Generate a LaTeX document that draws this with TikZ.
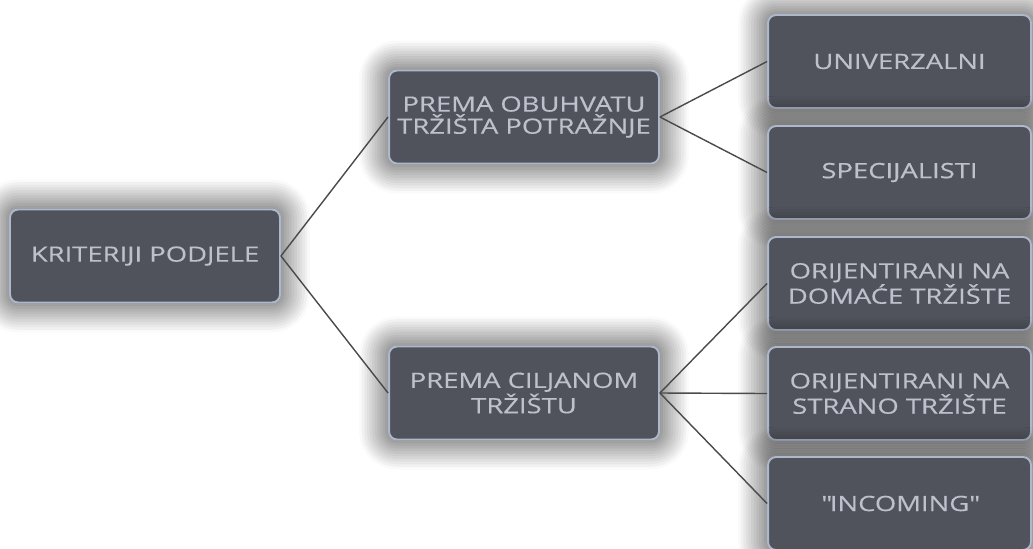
\documentclass[tikz,border=0pt]{standalone}
\usepackage{fontspec}
\setmainfont{Open Sans}[FakeStretch=1.3, FakeBold=0.4]
\usepackage{tikz}
\usetikzlibrary{positioning, shadows.blur}
\definecolor{boxfill}{HTML}{50535B}
\definecolor{boxline}{HTML}{AEB8CC}
\definecolor{boxtext}{HTML}{BCC1CB}
\definecolor{linkgray}{HTML}{4A4A4A}

\begin{document}
\begin{tikzpicture}[x=0.02cm, y=-0.02cm,
    box/.style={draw=boxline, line width=1.1pt, fill=boxfill, rounded corners=0.16cm,
        text=boxtext, align=center, inner sep=0pt, minimum width=5.4cm, minimum height=1.86cm,
        font=\fontsize{12}{12.6}\selectfont,
        blur shadow={shadow xshift=0pt, shadow yshift=0pt, shadow blur radius=0.6cm,
            shadow blur steps=12, shadow opacity=85}},
    leaf/.style={box, minimum width=5.26cm},
    link/.style={draw=linkgray, line width=0.8pt}]
    \useasboundingbox (0,0) rectangle (1033,548);

    % root
    \node[box] (kriteriji) at (145,256) {KRITERIJI PODJELE};

    % middle level
    \node[box] (obuhvat) at (524,117) {PREMA OBUHVATU\\TRŽIŠTA POTRAŽNJE};
    \node[box] (ciljano) at (524,393) {PREMA CILJANOM\\TRŽIŠTU};

    % right level
    \node[leaf] (univ) at (899.5,61.5) {UNIVERZALNI};
    \node[leaf] (spec) at (899.5,172.5) {SPECIJALISTI};
    \node[leaf] (domace) at (899.5,283.5) {ORIJENTIRANI NA\\DOMAĆE TRŽIŠTE};
    \node[leaf] (strano) at (899.5,393.5) {ORIJENTIRANI NA\\STRANO TRŽIŠTE};
    \node[leaf] (incoming) at (899.5,503.5) {\textquotedbl INCOMING\textquotedbl};

    % lines
    \draw[link] (kriteriji.east) -- (obuhvat.west);
    \draw[link] (kriteriji.east) -- (ciljano.west);
    \draw[link] (obuhvat.east) -- (univ.west);
    \draw[link] (obuhvat.east) -- (spec.west);
    \draw[link] (ciljano.east) -- (domace.west);
    \draw[link] (ciljano.east) -- (strano.west);
    \draw[link] (ciljano.east) -- (incoming.west);
\end{tikzpicture}
\end{document}
